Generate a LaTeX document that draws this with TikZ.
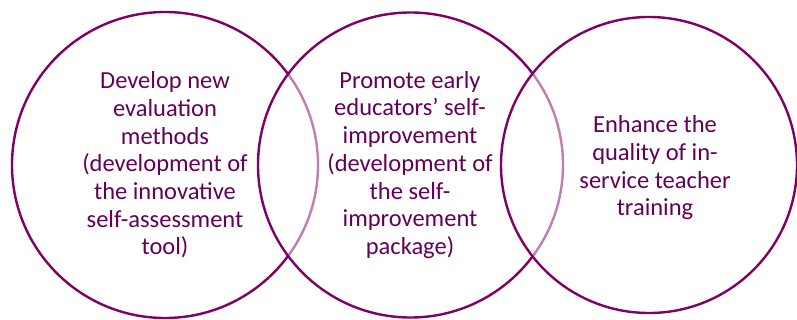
\documentclass[tikz,border=0pt]{standalone}
\usepackage{fontspec}
\setmainfont{Carlito}
\definecolor{ringpurple}{RGB}{128,0,100}
\definecolor{textpurple}{RGB}{100,0,88}
\begin{document}
\begin{tikzpicture}[x=1pt,y=-1pt,
  ring/.style={circle,draw=ringpurple,line width=2.4pt,inner sep=0pt,minimum size=#1},
  veil/.style={fill=white,fill opacity=0.5},
  label/.style={align=center,text=textpurple,font=\fontsize{24.5}{27.7}\selectfont,inner sep=0pt}]
\useasboundingbox (0,0) rectangle (797,320);
\node[ring=306pt] (c1) at (165,165) {};
\node[ring=305pt,veil] (c2) at (410.5,165) {};
\node[ring=296pt,veil] (c3) at (649,165) {};
\node[label] (t1) at (165,165) {Develop new\\evaluation\\methods\\(development of\\the innovative\\self-assessment\\tool)};
\node[label] (t2) at (410,165) {Promote early\\educators’ self-\\improvement\\(development of\\the self-\\improvement\\package)};
\node[label] (t3) at (655,168) {Enhance the\\quality of in-\\service teacher\\training};
\end{tikzpicture}
\end{document}
